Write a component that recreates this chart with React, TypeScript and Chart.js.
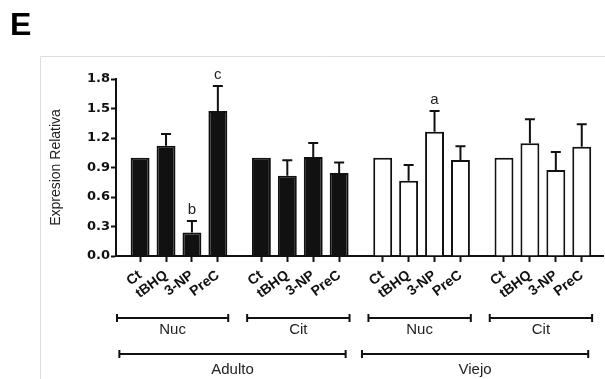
import React, { useEffect, useRef } from 'react';
import { Chart, registerables } from 'chart.js';

Chart.register(...registerables);

// ---- data ----
const tickLabels = ['Ct', 'tBHQ', '3-NP', 'PreC'];
const compartmentNames = ['Nuc', 'Cit', 'Nuc', 'Cit'];
const ageNames = ['Adulto', 'Viejo'];

const adultoNuc = [1.0, 1.12, 0.24, 1.475];
const adultoNucErr = [0, 0.12, 0.116, 0.255];
const adultoCit = [1.0, 0.817, 1.007, 0.844];
const adultoCitErr = [0, 0.156, 0.143, 0.106];
const viejoNuc = [1.0, 0.766, 1.264, 0.976];
const viejoNucErr = [0, 0.159, 0.211, 0.139];
const viejoCit = [1.0, 1.146, 0.875, 1.11];
const viejoCitErr = [0, 0.244, 0.183, 0.23];

const adultoNucLetters = ['', '', 'b', 'c'];
const adultoCitLetters = ['', '', '', ''];
const viejoNucLetters = ['', '', 'a', ''];
const viejoCitLetters = ['', '', '', ''];

const yTicks = [0, 0.3, 0.6, 0.9, 1.2, 1.5, 1.8];
const yTitle = 'Expresion Relativa';
const panelLabel = 'E';

// ---- layout constants ----
const GROUP_STRIDE = 4.68;
const X_MIN = -0.93;
const X_MAX = 3 * GROUP_STRIDE + 3 + 0.82;
const INK = '#111111';

const groups = [adultoNuc, adultoCit, viejoNuc, viejoCit];
const groupErrs = [adultoNucErr, adultoCitErr, viejoNucErr, viejoCitErr];
const groupLetters = [adultoNucLetters, adultoCitLetters, viejoNucLetters, viejoCitLetters];

const points = groups.flatMap((g, gi) => g.map((v, i) => ({ x: gi * GROUP_STRIDE + i, y: v })));
const errs = groupErrs.flat();
const letters = groupLetters.flat();
const labelsFlat = groups.flatMap((g) => g.map((_, i) => tickLabels[i]));
const tickPositions = points.map((p) => p.x);

const overlayPlugin = {
  id: 'overlay',
  beforeDraw(chart: any) {
    const c = chart.ctx;
    c.save();
    c.strokeStyle = '#dedede';
    c.lineWidth = 1;
    c.beginPath();
    c.moveTo(40.5, 420);
    c.lineTo(40.5, 56.5);
    c.lineTo(700, 56.5);
    c.stroke();
    c.fillStyle = '#000';
    c.font = 'bold 32px "Liberation Sans", Arial, sans-serif';
    c.textBaseline = 'alphabetic';
    c.textAlign = 'left';
    c.fillText(panelLabel, 10, 35);
    c.restore();
  },
  afterDatasetsDraw(chart: any) {
    const c = chart.ctx;
    const xs = chart.scales.x;
    const ys = chart.scales.y;
    c.save();
    c.strokeStyle = INK;
    c.fillStyle = '#222';
    c.lineWidth = 2;
    // error bars + letters
    points.forEach((p, k) => {
      const px = xs.getPixelForValue(p.x);
      const top = ys.getPixelForValue(p.y);
      let capY = top;
      if (errs[k] > 0) {
        capY = ys.getPixelForValue(p.y + errs[k]);
        c.beginPath();
        c.moveTo(px, top);
        c.lineTo(px, capY);
        c.moveTo(px - 5, capY);
        c.lineTo(px + 5, capY);
        c.stroke();
      }
      if (letters[k]) {
        c.font = '15px "Liberation Sans", Arial, sans-serif';
        c.textAlign = 'center';
        c.textBaseline = 'alphabetic';
        c.fillText(letters[k], px, capY - 7);
      }
    });
    // brackets
    const unit = xs.getPixelForValue(1) - xs.getPixelForValue(0);
    const bracket = (x1: number, x2: number, yy: number, text: string, ty: number) => {
      c.beginPath();
      c.moveTo(x1, yy);
      c.lineTo(x2, yy);
      c.moveTo(x1, yy - 4);
      c.lineTo(x1, yy + 4);
      c.moveTo(x2, yy - 4);
      c.lineTo(x2, yy + 4);
      c.stroke();
      c.font = '15px "Liberation Sans", Arial, sans-serif';
      c.textAlign = 'center';
      c.textBaseline = 'alphabetic';
      c.fillText(text, (x1 + x2) / 2, ty);
    };
    groups.forEach((g, gi) => {
      const first = xs.getPixelForValue(gi * GROUP_STRIDE);
      const last = xs.getPixelForValue(gi * GROUP_STRIDE + g.length - 1);
      const x1 = gi === 0 ? xs.left + 1 : first - 0.55 * unit;
      bracket(x1, last + 0.4 * unit, 318, compartmentNames[gi], 334);
    });
    ageNames.forEach((name, ai) => {
      const g0 = ai * 2;
      const g1 = ai * 2 + 1;
      const first = xs.getPixelForValue(g0 * GROUP_STRIDE);
      const last = xs.getPixelForValue(g1 * GROUP_STRIDE + groups[g1].length - 1);
      bracket(first - 0.8 * unit, last + 0.25 * unit, 354, name, 374);
    });
    c.restore();
  },
};

export default function App() {
  const ref = useRef<HTMLCanvasElement>(null);
  useEffect(() => {
    if (!ref.current) return;
    const chart = new Chart(ref.current, {
      type: 'bar',
      data: {
        datasets: [
          {
            data: points as any,
            backgroundColor: (ctx: any) => (ctx.dataIndex < 8 ? INK : '#ffffff'),
            borderColor: INK,
            borderWidth: 2,
            barPercentage: 0.73,
            categoryPercentage: 1,
          },
        ],
      },
      options: {
        animation: false,
        responsive: false,
        devicePixelRatio: 1,
        layout: { padding: { top: 79, right: 2, bottom: 0, left: 0 } },
        plugins: { legend: { display: false }, tooltip: { enabled: false } },
        scales: {
          x: {
            type: 'linear',
            min: X_MIN,
            max: X_MAX,
            offset: false,
            afterBuildTicks: (scale: any) => {
              scale.ticks = tickPositions.map((v) => ({ value: v }));
            },
            afterFit: (scale: any) => {
              scale.height = 123;
            },
            grid: { display: true, drawOnChartArea: false, drawTicks: true, tickLength: 6, tickWidth: 2, tickColor: INK, offset: false },
            border: { display: true, color: INK, width: 2 },
            ticks: {
              autoSkip: false,
              maxRotation: 37,
              minRotation: 37,
              padding: 5,
              color: INK,
              font: { family: '"Liberation Sans", Arial, sans-serif', size: 14, weight: 'bold' },
              callback: (_v: any, i: number) => labelsFlat[i],
            },
          },
          y: {
            min: 0,
            max: 1.8,
            afterBuildTicks: (scale: any) => {
              scale.ticks = yTicks.map((v) => ({ value: v }));
            },
            afterFit: (scale: any) => {
              scale.width = 116;
            },
            grid: { display: true, drawOnChartArea: false, drawTicks: true, tickLength: 5, tickWidth: 2, tickColor: INK },
            border: { display: true, color: INK, width: 2 },
            ticks: {
              padding: 1,
              color: INK,
              font: { family: '"DejaVu Sans", sans-serif', size: 13, weight: 'bold' },
              callback: (v: any) => Number(v).toFixed(1),
            },
            title: {
              display: true,
              text: yTitle,
              color: '#222',
              padding: { top: 48, bottom: 0 },
              font: { family: '"Liberation Sans", Arial, sans-serif', size: 14, weight: 'normal' },
            },
          },
        },
      },
      plugins: [overlayPlugin],
    });
    return () => chart.destroy();
  }, []);
  return (
    <div style={{ position: 'absolute', left: 0, top: 0, width: 605, height: 379, background: '#fff' }}>
      <canvas ref={ref} width={605} height={379} style={{ display: 'block', width: 605, height: 379 }} />
    </div>
  );
}
